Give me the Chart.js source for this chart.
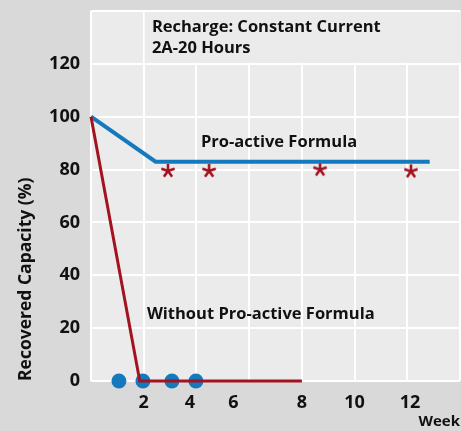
<!DOCTYPE html>
<html>
<head>
<meta charset="utf-8">
<script src="https://cdn.jsdelivr.net/npm/chart.js@4"></script>
<style>
html, body { margin: 0; padding: 0; background: #d9d9da; }
canvas { display: block; }
</style>
</head>
<body>
<canvas id="chartCanvas" width="461" height="431"></canvas>
<script>
// values (weeks / recovered capacity %)
const proactiveWeeks = [0, 2.45, 12.85];
const proactiveCapacity = [100, 83, 83];
const withoutWeeks = [0, 1.85, 8];
const withoutCapacity = [100, 0, 0];
const starWeeks = [2.92, 4.48, 8.69, 12.14];
const starCapacity = [79.5, 79.5, 80, 79.3];
const dotWeeks = [1.06, 1.97, 3.07, 3.98];
const dotCapacity = [0, 0, 0, 0];
const xTickLabels = ["2", "4", "6", "8", "10", "12"];
const xTickValues = [2, 3.75, 5.4, 8, 10, 12.1];

const FONT = "'Open Sans'";
const outerBg = "#d9d9da";
const plotBg = "#ebebeb";
const blue = "#1479bd";
const red = "#a3121f";

function toPoints(xs, ys){
    return xs.map((x, i) => ({x: x, y: ys[i]}));
}

function makeAsterisk(color){
    let c = document.createElement("canvas");
    c.width = 16; c.height = 16;
    let g = c.getContext("2d");
    g.strokeStyle = color;
    g.lineWidth = 2.6;
    for(let i = 0; i < 5; i++){
        let a = -Math.PI / 2 + i * 2 * Math.PI / 5;
        g.beginPath();
        g.moveTo(8, 8);
        g.lineTo(8 + 7 * Math.cos(a), 8 + 7 * Math.sin(a));
        g.stroke();
    }
    return c;
}

// no extra room for the end tick labels, the layout is fixed
function noPad(s){
    s.paddingTop = 0; s.paddingBottom = 0;
    s.paddingLeft = 0; s.paddingRight = 0;
}

const backdrop = {
    id: "backdrop",
    beforeDraw(chart){
        const {ctx, chartArea: a} = chart;
        ctx.save();
        ctx.fillStyle = outerBg;
        ctx.fillRect(0, 0, chart.width, chart.height);
        ctx.fillStyle = plotBg;
        ctx.fillRect(a.left, a.top, chart.width - a.left, a.bottom - a.top);
        ctx.restore();
    },
    beforeDatasetsDraw(chart){
        // the title box at the top has no vertical grid lines
        const {ctx, scales: {x, y}} = chart;
        ctx.save();
        ctx.fillStyle = plotBg;
        let x0 = x.getPixelForValue(2) + 1;
        let y0 = y.getPixelForValue(140) + 1;
        let y1 = y.getPixelForValue(120) - 1;
        ctx.fillRect(x0, y0, chart.width - x0, y1 - y0);
        ctx.restore();
    },
    afterDatasetsDraw(chart){
        const {ctx, scales: {x, y}} = chart;
        ctx.save();
        ctx.fillStyle = "#111";
        ctx.font = "bold 16.5px " + FONT;
        ctx.textBaseline = "middle";
        ctx.textAlign = "left";
        ctx.fillText("Recharge: Constant Current", x.getPixelForValue(2.31), y.getPixelForValue(134));
        ctx.fillText("2A-20 Hours", x.getPixelForValue(2.31), y.getPixelForValue(125.7));
        ctx.fillText("Pro-active Formula", x.getPixelForValue(4.17), y.getPixelForValue(90.5));
        ctx.fillText("Without Pro-active Formula", x.getPixelForValue(2.12), y.getPixelForValue(25.4));
        ctx.restore();
    }
};

const data = {
    datasets: [
        {
            label: "Without Pro-active Formula",
            data: toPoints(withoutWeeks, withoutCapacity),
            showLine: true,
            borderColor: red,
            borderWidth: 3,
            pointRadius: 0,
            clip: false
        },
        {
            label: "Pro-active Formula",
            data: toPoints(proactiveWeeks, proactiveCapacity),
            showLine: true,
            borderColor: blue,
            borderWidth: 4,
            pointRadius: 0,
            clip: false
        },
        {
            label: "Pro-active samples",
            data: toPoints(starWeeks, starCapacity),
            pointStyle: makeAsterisk(red),
            pointRadius: 8,
            clip: false
        },
        {
            label: "Without samples",
            data: toPoints(dotWeeks, dotCapacity),
            backgroundColor: blue,
            borderWidth: 0,
            pointRadius: 7.5,
            clip: false
        }
    ]
};

const config = {
    type: "scatter",
    data: data,
    options: {
        responsive: false,
        animation: false,
        devicePixelRatio: 1,
        layout: {autoPadding: false, padding: {top: 11, right: 1, left: 0, bottom: 0}},
        plugins: {legend: {display: false}, tooltip: {enabled: false}},
        scales: {
            x: {
                type: "linear", position: "bottom", min: 0, max: 14,
                ticks: {display: false, stepSize: 2},
                grid: {color: "#ffffff", lineWidth: 2, drawTicks: false},
                border: {display: false},
                afterFit: s => { s.height = 0; noPad(s); }
            },
            xl: {
                type: "linear", position: "bottom", min: 0, max: 14,
                afterBuildTicks: s => { s.ticks = xTickValues.map(v => ({value: v})); },
                ticks: {
                    autoSkip: false, maxRotation: 0, padding: 11,
                    color: "#111", font: {family: FONT, weight: "bold", size: 18},
                    callback: (v, i) => xTickLabels[i]
                },
                grid: {display: false, drawTicks: false},
                border: {display: false},
                title: {
                    display: true, text: "Week", align: "end", color: "#111",
                    font: {family: FONT, weight: "bold", size: 15},
                    padding: {top: 0, bottom: 0}
                },
                afterFit: s => { s.height = 50; noPad(s); }
            },
            y: {
                min: 0, max: 140,
                ticks: {
                    stepSize: 20, padding: 11, color: "#111",
                    font: {family: FONT, weight: "bold", size: 18},
                    callback: v => v > 120 ? "" : v
                },
                grid: {color: "#ffffff", lineWidth: 2, drawTicks: false},
                border: {display: false},
                title: {
                    display: true, text: "Recovered Capacity (%)", align: "start", color: "#111",
                    font: {family: FONT, weight: "bold", size: 17.5},
                    padding: {top: 16, bottom: 0}
                },
                afterFit: s => { s.width = 91; noPad(s); }
            }
        }
    },
    plugins: [backdrop]
};

let myChart = new Chart(document.getElementById("chartCanvas"), config);
</script>
</body>
</html>
